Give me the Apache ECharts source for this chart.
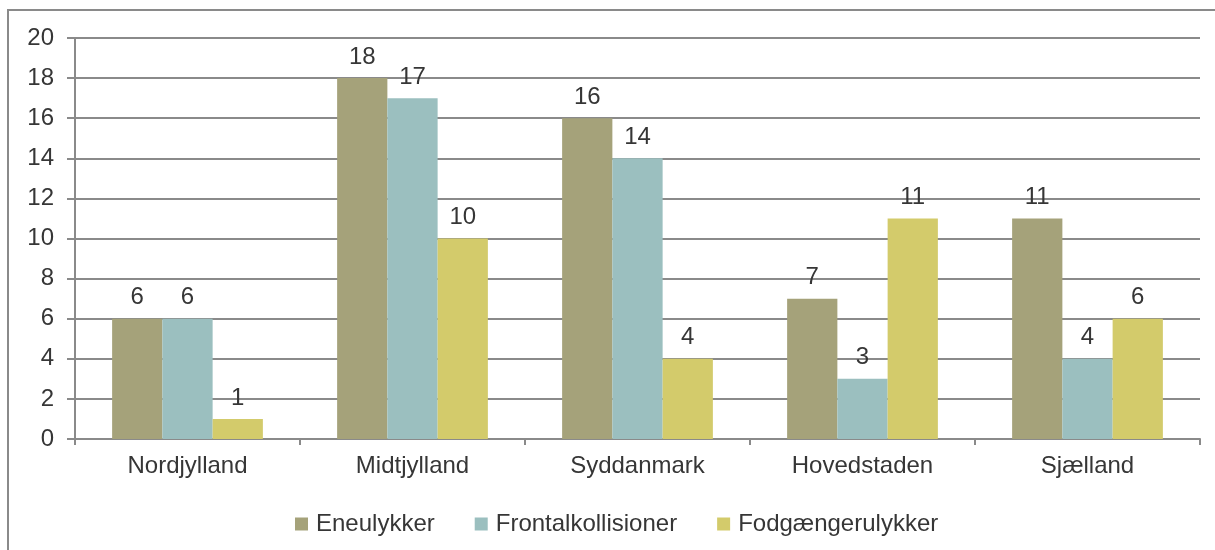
<!DOCTYPE html>
<html><head><meta charset="utf-8">
<script src="https://cdn.jsdelivr.net/npm/echarts@6/dist/echarts.min.js"></script>
<style>html,body{margin:0;padding:0;background:#fff}#c{width:1215px;height:550px}</style>
</head><body><div id="c"></div>
<script>
const categories = ['Nordjylland','Midtjylland','Syddanmark','Hovedstaden','Sjælland'];
const seriesNames = ['Eneulykker','Frontalkollisioner','Fodgængerulykker'];
const eneulykker = [6,18,16,7,11];
const frontalkollisioner = [6,17,14,3,4];
const fodgaengerulykker = [1,10,4,11,6];
const colors = ['#A5A27A','#9BBFBF','#D3CB6B'];
const values = [eneulykker, frontalkollisioner, fodgaengerulykker];

const chart = echarts.init(document.getElementById('c'), null, {renderer:'canvas'});
const font = 'Liberation Sans, Arial, sans-serif';
const txt = '#363636';
chart.setOption({
  animation:false,
  textStyle:{fontFamily:font},
  graphic:[{type:'rect',shape:{x:8,y:10,width:1220,height:545},style:{fill:'none',stroke:'#8a8a8a',lineWidth:2},silent:true}],
  grid:{left:75,right:15,top:38,bottom:111,containLabel:false},
  legend:{top:507,left:290,itemWidth:13,itemHeight:13,itemGap:40,icon:'rect',
    textStyle:{fontSize:24,color:txt,fontFamily:font,padding:[0,0,0,3]},data:seriesNames},
  xAxis:{type:'category',data:categories,
    axisLine:{lineStyle:{color:'#8a8a8a',width:2}},
    axisTick:{show:true,length:6,lineStyle:{color:'#8a8a8a',width:2}},
    axisLabel:{fontSize:24,color:txt,margin:15,fontFamily:font}},
  yAxis:{type:'value',min:0,max:20,interval:2,
    axisLine:{show:true,lineStyle:{color:'#8a8a8a',width:2}},
    axisTick:{show:true,length:8,lineStyle:{color:'#8a8a8a',width:2}},
    splitLine:{lineStyle:{color:'#8a8a8a',width:2}},
    axisLabel:{fontSize:24,color:txt,margin:21,fontFamily:font}},
  series: seriesNames.map((n,i)=>({
    name:n,type:'bar',data:values[i],barGap:'0%',barCategoryGap:'33%',
    itemStyle:{color:colors[i]},
    label:{show:true,position:'top',distance:9,fontSize:24,color:txt,fontFamily:font}
  }))
});
</script></body></html>
